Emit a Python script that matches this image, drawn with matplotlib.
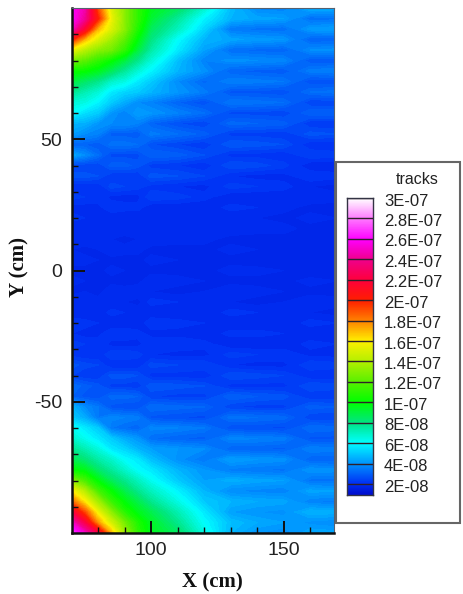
import numpy as np
import matplotlib
matplotlib.use("Agg")
import matplotlib.pyplot as plt
from matplotlib.colors import LinearSegmentedColormap
from matplotlib.patches import Rectangle

plt.rcParams["axes.unicode_minus"] = False

# tracks in units of 1e-8, first row is y=100, last y=-100
x_cm = [70, 75, 80, 85, 90, 95, 100, 110, 120, 130, 140, 150, 160, 170]
y_cm = list(range(100, -101, -4))
tracks = [
    [26.0, 24.5, 19.0, 15.0, 13.0, 11.0, 9.6, 8.6, 6.8, 4.8, 3.7, 3.6, 4.5, 4.4],
    [26.0, 24.0, 20.0, 15.5, 13.0, 11.0, 9.2, 7.6, 5.8, 4.6, 4.3, 4.2, 3.2, 3.3],
    [25.0, 21.5, 17.0, 15.0, 13.0, 10.6, 8.6, 7.0, 5.2, 3.4, 3.3, 3.2, 4.1, 4.2],
    [20.0, 17.0, 15.0, 13.5, 12.0, 9.8, 8.0, 6.0, 4.6, 4.3, 4.1, 4.0, 3.0, 3.0],
    [15.5, 14.0, 13.0, 12.5, 11.0, 9.0, 7.4, 5.6, 4.2, 3.2, 3.1, 3.0, 3.8, 3.9],
    [12.5, 12.0, 11.0, 10.0, 9.0, 7.8, 6.6, 4.8, 3.6, 3.9, 3.8, 3.7, 2.8, 2.8],
    [10.2, 10.0, 9.5, 8.6, 7.6, 6.6, 5.8, 4.6, 3.9, 3.0, 2.9, 2.8, 3.5, 3.6],
    [9.0, 8.4, 7.8, 6.8, 6.4, 5.6, 5.0, 3.8, 3.1, 3.6, 3.5, 3.4, 2.6, 2.6],
    [7.8, 7.2, 6.6, 5.6, 5.2, 5.0, 4.6, 4.0, 3.5, 2.7, 2.7, 2.6, 3.2, 3.3],
    [6.6, 6.4, 5.8, 5.0, 4.4, 3.8, 3.6, 3.0, 2.6, 3.4, 3.3, 3.2, 2.4, 2.4],
    [6.0, 5.4, 5.0, 4.0, 3.6, 4.2, 4.0, 3.6, 3.2, 2.5, 2.5, 2.4, 3.0, 3.0],
    [4.6, 4.5, 4.0, 3.8, 3.8, 3.6, 3.0, 2.6, 2.4, 3.1, 3.0, 2.9, 2.2, 2.2],
    [4.2, 3.8, 3.6, 2.9, 2.9, 2.8, 3.5, 3.2, 2.9, 2.3, 2.3, 2.2, 2.7, 2.6],
    [3.0, 3.0, 2.8, 3.3, 3.3, 3.2, 2.6, 2.4, 2.2, 2.8, 2.7, 2.6, 2.0, 2.0],
    [4.4, 3.8, 3.2, 2.5, 2.5, 2.5, 3.0, 2.9, 2.6, 2.1, 2.1, 2.0, 2.4, 2.3],
    [2.4, 2.4, 2.4, 2.9, 2.9, 2.7, 2.3, 2.2, 2.0, 2.6, 2.5, 2.3, 1.8, 1.8],
    [2.7, 2.7, 2.6, 2.2, 2.2, 2.2, 2.7, 2.6, 2.4, 2.0, 1.9, 1.9, 2.2, 2.1],
    [2.0, 2.0, 2.0, 2.5, 2.4, 2.3, 2.1, 2.0, 1.9, 2.3, 2.2, 2.1, 1.8, 1.7],
    [2.3, 2.2, 2.2, 1.9, 1.9, 1.9, 2.4, 2.3, 2.1, 1.8, 1.8, 1.8, 2.0, 1.9],
    [1.9, 1.9, 1.9, 2.2, 2.1, 2.1, 1.8, 1.8, 1.8, 2.1, 2.0, 1.9, 1.7, 1.7],
    [2.1, 2.0, 2.0, 1.8, 1.8, 1.8, 2.0, 2.0, 1.9, 1.8, 1.8, 1.7, 1.9, 1.8],
    [1.8, 1.8, 1.8, 2.0, 2.0, 1.9, 1.8, 1.8, 1.8, 2.0, 1.9, 1.9, 1.7, 1.7],
    [2.0, 2.0, 1.9, 1.8, 1.7, 1.8, 2.0, 1.9, 1.9, 1.7, 1.7, 1.7, 1.8, 1.8],
    [1.8, 1.7, 1.8, 2.0, 1.9, 1.9, 1.7, 1.7, 1.7, 1.9, 1.8, 1.8, 1.7, 1.6],
    [1.9, 1.9, 1.8, 1.7, 1.7, 1.7, 1.9, 1.8, 1.8, 1.7, 1.6, 1.7, 1.8, 1.8],
    [1.7, 1.7, 1.7, 1.9, 1.8, 1.8, 1.7, 1.7, 1.7, 1.9, 1.9, 1.8, 1.6, 1.7],
    [1.9, 1.8, 1.8, 1.7, 1.7, 1.7, 2.0, 1.9, 1.8, 1.7, 1.7, 1.7, 1.9, 1.8],
    [1.7, 1.8, 1.7, 2.0, 1.9, 2.0, 1.8, 1.7, 1.8, 2.0, 1.9, 1.8, 1.7, 1.7],
    [2.0, 1.9, 1.9, 1.8, 1.8, 1.7, 2.1, 2.0, 1.9, 1.8, 1.7, 1.8, 2.0, 1.9],
    [1.8, 1.8, 1.8, 2.1, 2.0, 2.0, 1.8, 1.8, 1.8, 2.1, 2.0, 1.9, 1.8, 1.7],
    [2.2, 2.1, 2.0, 1.8, 1.8, 1.8, 2.2, 2.1, 2.0, 1.8, 1.8, 1.8, 2.1, 2.0],
    [2.0, 1.9, 1.9, 2.2, 2.2, 2.1, 1.9, 1.9, 1.8, 2.1, 2.1, 2.0, 1.8, 1.8],
    [2.3, 2.2, 2.2, 1.9, 1.9, 1.9, 2.2, 2.2, 2.1, 1.8, 1.8, 1.8, 2.1, 2.0],
    [2.1, 2.0, 2.0, 2.4, 2.4, 2.3, 2.0, 1.9, 1.9, 2.3, 2.2, 2.2, 1.9, 1.9],
    [2.7, 2.5, 2.4, 2.0, 2.0, 2.0, 2.5, 2.4, 2.4, 2.0, 1.9, 1.9, 2.4, 2.3],
    [2.4, 2.2, 2.2, 2.7, 2.7, 2.6, 2.1, 2.1, 2.0, 2.6, 2.5, 2.4, 2.0, 2.0],
    [3.2, 2.9, 2.7, 2.3, 2.3, 2.2, 2.8, 2.7, 2.6, 2.1, 2.1, 2.1, 2.6, 2.5],
    [3.0, 2.7, 2.6, 3.1, 3.1, 3.0, 2.4, 2.3, 2.3, 3.0, 2.8, 2.7, 2.2, 2.2],
    [4.6, 3.8, 3.4, 2.7, 2.6, 2.6, 3.2, 3.1, 3.0, 2.4, 2.3, 2.3, 2.9, 2.8],
    [5.0, 4.4, 3.4, 3.7, 3.6, 3.5, 2.7, 2.6, 2.5, 3.3, 3.2, 3.1, 2.4, 2.4],
    [6.2, 5.6, 5.0, 3.4, 3.2, 3.0, 3.7, 3.6, 3.4, 2.6, 2.6, 2.5, 3.2, 3.1],
    [6.8, 6.2, 5.6, 5.0, 4.4, 4.0, 3.2, 3.0, 2.9, 3.7, 3.6, 3.5, 2.7, 2.7],
    [7.8, 7.2, 6.5, 5.6, 5.2, 4.6, 4.2, 4.0, 3.8, 3.0, 3.0, 2.9, 3.6, 3.5],
    [8.8, 8.2, 7.4, 6.8, 6.0, 5.6, 4.8, 3.9, 3.4, 4.2, 4.0, 3.9, 3.0, 3.0],
    [10.0, 9.6, 8.4, 7.6, 6.8, 6.0, 5.6, 4.6, 4.0, 3.5, 3.4, 3.3, 4.0, 3.9],
    [13.0, 11.5, 9.8, 8.6, 7.8, 7.0, 6.2, 5.0, 4.2, 4.5, 4.3, 4.2, 3.3, 3.3],
    [16.0, 14.0, 11.5, 10.0, 8.8, 7.8, 7.0, 5.8, 4.6, 3.8, 3.7, 3.6, 4.3, 4.2],
    [18.5, 16.0, 13.5, 11.2, 9.8, 8.8, 7.8, 6.4, 5.0, 4.6, 4.4, 4.3, 3.6, 3.5],
    [22.0, 19.0, 15.5, 13.0, 10.8, 9.6, 8.8, 7.2, 5.6, 4.2, 4.0, 3.9, 4.6, 4.5],
    [25.0, 22.0, 17.5, 14.8, 12.5, 10.6, 9.4, 7.8, 6.0, 4.8, 4.4, 4.2, 3.9, 3.8],
    [27.0, 25.0, 22.0, 17.0, 13.5, 11.0, 9.5, 8.5, 6.4, 4.6, 4.0, 3.8, 4.4, 4.3],
]

level_values = [30, 28, 26, 24, 22, 20, 18, 16, 14, 12, 10, 8, 6, 4, 2]
level_labels = ["3E-07", "2.8E-07", "2.6E-07", "2.4E-07", "2.2E-07", "2E-07", "1.8E-07", "1.6E-07",
                "1.4E-07", "1.2E-07", "1E-07", "8E-08", "6E-08", "4E-08", "2E-08"]
level_colors = ["#ffffff", "#ff78ff", "#ff00ff", "#f0008c", "#ff003c", "#ff1e00", "#ff8200", "#fff000",
                "#b4f000", "#5af000", "#00ff00", "#00e682", "#00ffff", "#0096ff", "#0030f5"]

W, H = 464, 594
vmin, vmax = 1, 30


def px_axes(left, top, right, bottom):
	return fig.add_axes([left / W, 1 - bottom / H, (right - left) / W, (bottom - top) / H])


stops = [(0, "#0010d0")]
for v, c in sorted(zip(level_values, level_colors)):
	stops.append(((v - vmin) / (vmax - vmin), c))
cmap = LinearSegmentedColormap.from_list("tracks", stops, N=512)

fig = plt.figure(figsize=(W / 100, H / 100), dpi=100)

ax = px_axes(71.5, 8, 334, 533)
ax.contourf(x_cm, y_cm, tracks, levels=np.linspace(vmin, vmax, 146), cmap=cmap, vmin=vmin, vmax=vmax, extend="both")
ax.set_xlim(70, 169)
ax.set_ylim(-100, 100)
ax.set_xticks([100, 150])
ax.set_yticks([-50, 0, 50])
ax.set_xticks(range(80, 170, 10), minor=True)
ax.set_yticks(range(-90, 100, 10), minor=True)
ax.tick_params(which="major", direction="in", length=9, width=1.4, labelsize=14, pad=6.5, color="#111111", labelcolor="#222222",
	labelfontfamily="Liberation Sans")
ax.tick_params(which="minor", direction="in", length=4.5, width=1.0, color="#111111")
for side in ["left", "bottom"]:
	ax.spines[side].set_linewidth(1.8)
	ax.spines[side].set_color("#111111")
for side in ["top", "right"]:
	ax.spines[side].set_linewidth(0.8)
	ax.spines[side].set_color("#556070")

fig.text(212 / W, 1 - 582 / H, "X (cm)", family="Liberation Serif", weight="bold", size=15, ha="center", va="center", color="#111111")
fig.text(19 / W, 1 - 267 / H, "Y (cm)", family="Liberation Serif", weight="bold", size=15, rotation=90, ha="center", va="center", color="#111111")

# legend box
fig.add_artist(Rectangle((336 / W, 1 - 523 / H), 124 / W, 361 / H, transform=fig.transFigure, fc="white", ec="#666666", lw=1.5, zorder=3))
fig.text(417 / W, 1 - 179 / H, "tracks", family="Liberation Sans", size=11.5, ha="center", va="center", color="#222222", zorder=5)

cax = px_axes(347, 198, 373, 495)
cax.set_zorder(4)
bottom_val = 2 - 11 / 20.5 * 2
cax.imshow(np.linspace(vmax, bottom_val, 400).reshape(-1, 1), aspect="auto", cmap=cmap, vmin=vmin, vmax=vmax,
	extent=[0, 1, bottom_val, vmax])
cax.hlines(level_values, 0, 1, color="#30202a", lw=1.0)
cax.set_xlim(0, 1)
cax.set_ylim(bottom_val, vmax)
cax.set_xticks([])
cax.set_yticks([])
for s in cax.spines.values():
	s.set_linewidth(1.0)
	s.set_color("#333344")
for v, label in zip(level_values, level_labels):
	cax.annotate(label, (1, v), xytext=(8, -2.2), textcoords="offset points", family="Liberation Sans", size=12,
		va="center", ha="left", color="#222222", annotation_clip=False)

plt.savefig("out.png", dpi=100)
